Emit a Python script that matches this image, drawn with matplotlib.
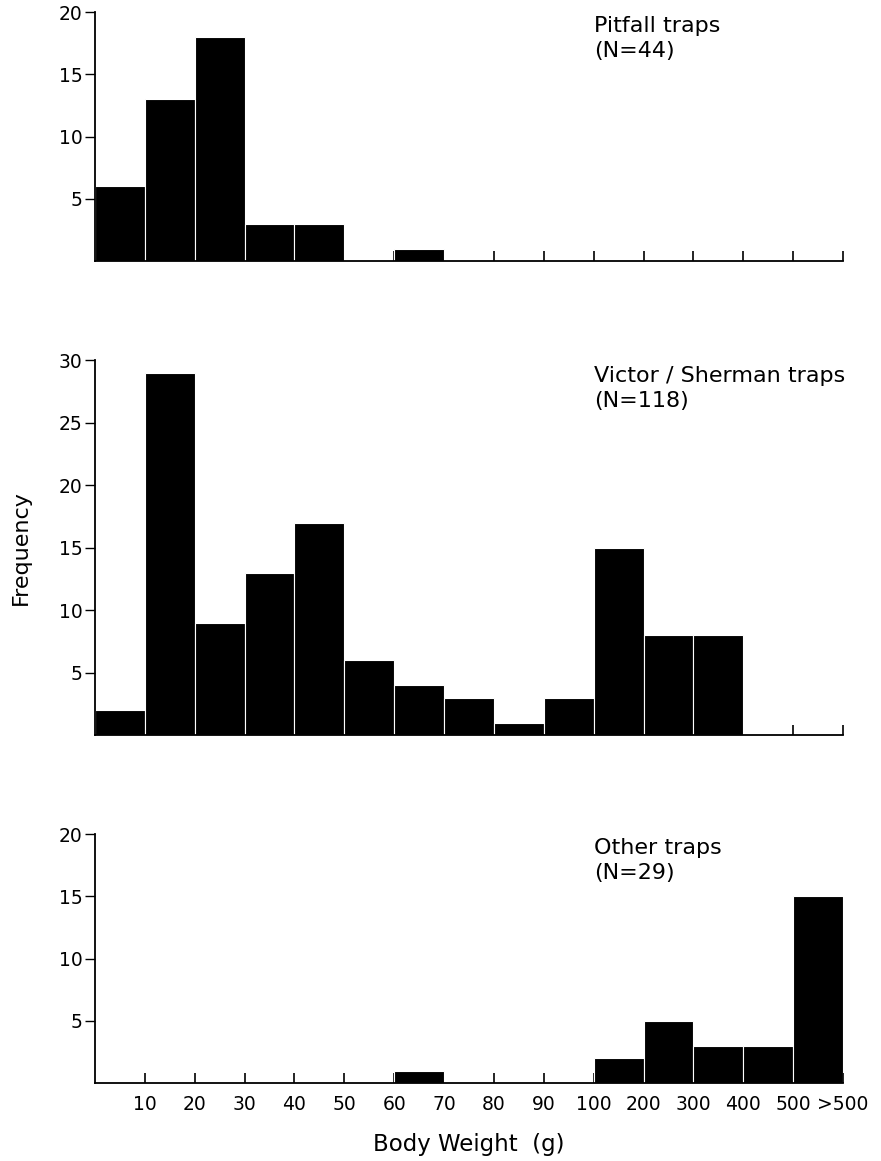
import numpy as np
import matplotlib.pyplot as plt

plt.rcParams['font.family'] = ['DejaVu Sans']

# data
bin_labels = ["10", "20", "30", "40", "50", "60", "70", "80", "90",
              "100", "200", "300", "400", "500", ">500"]
pitfall = [6, 13, 18, 3, 3, 0, 1, 0, 0, 0, 0, 0, 0, 0, 0]
victor = [2, 29, 9, 13, 17, 6, 4, 3, 1, 3, 15, 8, 8, 0, 0]
other = [0, 0, 0, 0, 0, 0, 1, 0, 0, 0, 2, 5, 3, 3, 15]

titles = ["Pitfall traps\n(N=44)",
          "Victor / Sherman traps\n(N=118)",
          "Other traps\n(N=29)"]
series = [pitfall, victor, other]
ymax = [20, 30, 20]

fig = plt.figure(figsize=(8.81, 11.61), dpi=100)

left, width = 95/881, 748/881
rects = [(left, 1 - 261/1161, width, 249/1161),
         (left, 1 - 735/1161, width, 375/1161),
         (left, 1 - 1083/1161, width, 249/1161)]

nb = len(bin_labels)
x = np.arange(nb)

for i, (vals, title, ym, r) in enumerate(zip(series, titles, ymax, rects)):
    ax = fig.add_axes(r)
    ax.set_axisbelow(True)
    ax.bar(x, vals, width=1.0, align='edge', color='black',
           edgecolor='white', linewidth=0.8)
    ax.set_xlim(0, nb)
    ax.set_ylim(0, ym)
    ax.spines['top'].set_visible(False)
    ax.spines['right'].set_visible(False)
    for s in ['left', 'bottom']:
        ax.spines[s].set_linewidth(1.3)
    ax.set_yticks(np.arange(5, ym + 1, 5))
    ax.tick_params(axis='y', direction='out', length=7, width=1.0,
                   labelsize=13.5, pad=2)
    ax.set_xticks(np.arange(1, nb + 1))
    ax.tick_params(axis='x', direction='in', length=7, width=1.2,
                   labelsize=13.5, pad=9)
    if i == 2:
        ax.set_xticklabels(bin_labels)
        ax.set_xlabel("Body Weight  (g)", fontsize=16.5, labelpad=13)
    else:
        ax.set_xticklabels([])
    if i == 1:
        ax.set_ylabel("Frequency", fontsize=16, labelpad=20)
    ax.text(10.0, 0.985, title, transform=ax.get_xaxis_transform(),
            ha='left', va='top', fontsize=16, linespacing=1.35)

fig.savefig("out.png", dpi=100)
